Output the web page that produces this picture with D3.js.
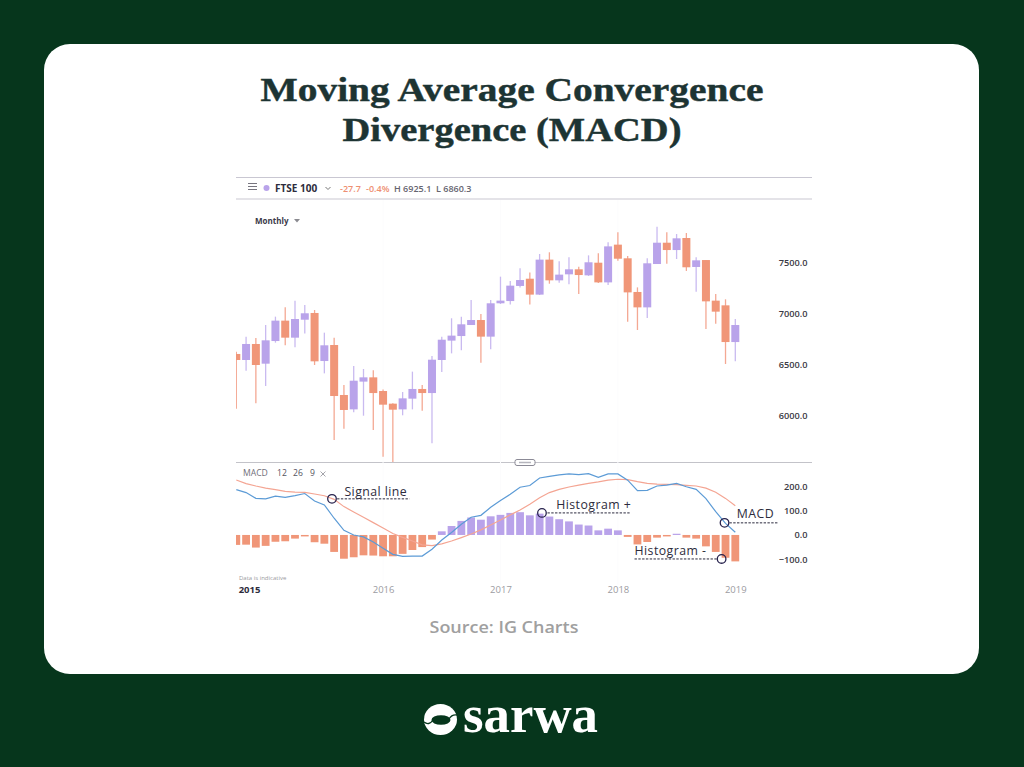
<!DOCTYPE html>
<html><head><meta charset="utf-8">
<script src="https://d3js.org/d3.v7.min.js"></script>
<style>html,body{margin:0;padding:0;background:#06361c;overflow:hidden}svg{display:block}
text{font-family:"Open Sans",Lato,sans-serif}</style></head><body>
<svg id="c" width="1024" height="767"></svg>
<script>
const opens=[6608,6549,6706,6513,6735,6935,6768,6944,7010,6539,6696,6206,6065,6337,6379,6245,6121,6065,6170,6265,6225,6549,6739,6784,6892,6941,6778,7105,7127,7275,7346,7190,7533,7330,7389,7438,7379,7503,7310,7680,7546,7216,7065,7490,7699,7627,7745,7461,7529,7131,7085,6725];
const closes=[6549,6706,6500,6742,6935,6768,6951,7007,6536,6693,6196,6059,6346,6379,6225,6111,6062,6173,6265,6225,6552,6748,6788,6899,6941,6778,7105,7131,7278,7333,7190,7533,7330,7386,7438,7382,7507,7310,7663,7542,7212,7065,7497,7699,7627,7742,7458,7526,7124,7023,6725,6892];
const highs=[6631,6778,6765,6892,6974,7065,7131,7088,7039,6817,6768,6304,6490,6461,6448,6261,6124,6235,6435,6304,6588,6778,6958,6974,7137,7000,7137,7366,7324,7448,7408,7588,7605,7516,7556,7464,7575,7595,7703,7801,7569,7261,7546,7856,7801,7784,7794,7556,7529,7196,7144,6951];
const lows=[6072,6444,6124,6294,6719,6693,6673,6810,6500,6418,5765,5876,6036,6003,5863,5601,5536,6007,6065,6052,5732,6431,6614,6644,6892,6523,6654,7098,7092,7261,7092,7186,7297,7307,7291,7196,7373,7304,7284,7523,6925,6843,6961,7490,7493,7539,7422,7219,6853,6905,6510,6536];
const histogram=[-41,-40,-52,-45,-28,-26,-15,-6,-30,-36,-70,-98,-92,-84,-85,-88,-88,-78,-62,-50,-19,15,37,58,72,63,77,83,91,94,81,88,76,65,56,43,39,19,26,19,-8,-39,-29,-11,-6,5,-11,-15,-47,-70,-94,-109];
const macdLine=[187,175,151,149,160,155,162,171,140,124,69,19,0,-8,-29,-55,-80,-88,-87,-87,-59,-21,10,44,73,81,114,142,168,197,204,235,242,248,252,249,253,238,252,252,226,183,184,202,206,213,199,188,150,96,48,11];
const signalLine=[227,212,202,193,187,180,177,176,169,162,147,117,95,73,51,29,6,-10,-25,-41,-44,-37,-25,-11,4,21,41,62,83,103,127,154,175,188,198,206,213,219,226,230,228,220,213,210,209,208,205,202,193,176,151,121];
const priceTicks=[6000,6500,7000,7500];
const macdTicks=[-100,0,100,200];
const yearTicks=[1.3,15,27,39,51];
const yearLabels=["2015","2016","2017","2018","2019"];
const titleLines=["Moving Average Convergence","Divergence (MACD)"];
const notes=[
 {text:"Signal line",cx:9.78,cy:149,from:10.3,to:17.7,ty:160,anchor:11.05},
 {text:"Histogram +",cx:31.24,cy:91,from:31.8,to:40.2,ty:107,anchor:32.7},
 {text:"MACD",cx:49.9,cy:50,from:50.4,to:55.4,ty:70,anchor:51.15},
 {text:"Histogram -",cx:49.6,cy:-99,from:40.7,to:49.1,ty:-82,anchor:40.7}];

const purple="#b9a3ea",orange="#f09678",purpleW="#c9baf0",orangeW="#f4a893";
const svg=d3.select("#c");
svg.append("rect").attr("width",1024).attr("height",767).attr("fill","#06361c");
svg.append("rect").attr("x",44).attr("y",44).attr("width",935).attr("height",630).attr("rx",26).attr("fill","#fff");

const x=d3.scaleLinear().domain([0,51]).range([236.3,735.3]);
const yP=d3.scaleLinear().domain([6000,7500]).range([416,263]);
const yM=d3.scaleLinear().domain([-100,200]).range([559.2,486.5]);

// title
svg.selectAll(".t").data(titleLines).join("text").attr("class","t")
 .attr("x",512).attr("y",(d,i)=>[101,140.5][i]).attr("text-anchor","middle")
 .attr("textLength",(d,i)=>[503,339][i]).attr("lengthAdjust","spacingAndGlyphs")
 .style("font-family","'Liberation Serif',serif").style("font-weight",700).style("font-size","34.5px")
 .attr("fill","#1d3433").attr("stroke","#1d3433").attr("stroke-width",.45).text(d=>d);

// frame lines
[177.5,199,462.5].forEach(y=>svg.append("line").attr("x1",236).attr("x2",812).attr("y1",y).attr("y2",y)
  .attr("stroke",y==462.5?"#c3c3c9":"#c9c7d2").attr("stroke-width",1.1));
svg.selectAll(".g").data(yearTicks.slice(1,4)).join("line").attr("x1",d=>x(d)).attr("x2",d=>x(d))
  .attr("y1",200).attr("y2",585).attr("stroke","#fcfcfd");

// header
[184,187,190].forEach(y=>svg.append("line").attr("x1",248).attr("x2",257).attr("y1",y-.5).attr("y2",y-.5).attr("stroke","#77757f").attr("stroke-width",1));
svg.append("circle").attr("cx",266.5).attr("cy",188).attr("r",3).attr("fill",purple);
const hdr=(t,xp,c,w,s)=>svg.append("text").attr("x",xp).attr("y",191.5).attr("fill",c).style("font-weight",w).style("font-size",s+"px").text(t);
hdr("FTSE 100",275,"#2d2c3c",700,10);
svg.append("path").attr("d","M325.5 187l2.5 2.5l2.5-2.5").attr("fill","none").attr("stroke","#777");
hdr("-27.7",340,"#ee8f72",600,9);hdr("-0.4%",366,"#ee8f72",600,9);hdr("H 6925.1",394,"#66646f",600,9);hdr("L 6860.3",436,"#66646f",600,9);
svg.append("text").attr("x",255).attr("y",224).attr("fill","#3a3948").style("font-weight",700).style("font-size","8px").text("Monthly");
svg.append("path").attr("d","M294 219h6l-3 3.5z").attr("fill","#8a8a90");

// candles
svg.append("clipPath").attr("id","cp").append("rect").attr("x",236).attr("y",200).attr("width",576).attr("height",262);
const gc=svg.append("g").attr("clip-path","url(#cp)");
const idx=d3.range(opens.length);
const up=i=>closes[i]>=opens[i];
gc.selectAll(".w").data(idx).join("line").attr("x1",i=>x(i)).attr("x2",i=>x(i))
 .attr("y1",i=>yP(highs[i])).attr("y2",i=>yP(lows[i])).attr("stroke",i=>up(i)?purpleW:orangeW).attr("stroke-width",1.3);
gc.selectAll(".b").data(idx).join("rect").attr("x",i=>x(i)-4).attr("width",8)
 .attr("y",i=>yP(Math.max(opens[i],closes[i]))).attr("height",i=>Math.abs(yP(opens[i])-yP(closes[i])))
 .attr("fill",i=>up(i)?purple:orange);

// price axis
const styleAxis=g=>{g.select(".domain").remove();g.selectAll("line").remove();
 g.selectAll("text").attr("x",0).attr("text-anchor","end").attr("fill","#3b3a44").style("font-family","'Open Sans'").style("font-weight",600).style("font-size","9.2px");};
svg.append("g").attr("transform","translate(807.5,0)").call(d3.axisRight(yP).tickValues(priceTicks).tickFormat(d3.format(".1f"))).call(styleAxis);
svg.append("g").attr("transform","translate(807.5,0)").call(d3.axisRight(yM).tickValues(macdTicks).tickFormat(d3.format(".1f"))).call(styleAxis);

// slider handle
svg.append("rect").attr("x",515).attr("y",459.5).attr("width",20).attr("height",6).attr("rx",2).attr("fill","#fff").attr("stroke","#8b8a96");
svg.append("line").attr("x1",519).attr("x2",531).attr("y1",462.5).attr("y2",462.5).attr("stroke","#b5b5bd").attr("stroke-width",1.5);

// MACD
const t=svg.append("text").attr("x",243).attr("y",476).attr("fill","#6f6e78").style("font-size","8.6px").style("font-weight",500);
t.append("tspan").text("MACD");t.append("tspan").attr("x",277).attr("fill","#55545e").text("12");t.append("tspan").attr("x",293).attr("fill","#55545e").text("26");t.append("tspan").attr("x",310).attr("fill","#55545e").text("9");
svg.append("path").attr("d","M320.5 471.5l5 5m0-5l-5 5").attr("stroke","#9a9aa2").attr("stroke-width",.9);
svg.append("clipPath").attr("id","cm").append("rect").attr("x",236).attr("y",464).attr("width",576).attr("height",120);
const gm=svg.append("g").attr("clip-path","url(#cm)");
gm.selectAll(".h").data(idx).join("rect").attr("x",i=>x(i)-3.9).attr("width",7.8)
 .attr("y",i=>yM(Math.max(0,histogram[i]))).attr("height",i=>Math.abs(yM(histogram[i])-yM(0)))
 .attr("fill",i=>histogram[i]>=0?purple:orange);
const ln=a=>d3.line().x((d,i)=>x(i)).y(d=>yM(d))(a);
gm.append("path").attr("d",ln(signalLine)).attr("fill","none").attr("stroke","#f4a593").attr("stroke-width",1.2);
gm.append("path").attr("d",ln(macdLine)).attr("fill","none").attr("stroke","#5c9bd6").attr("stroke-width",1.2);

// annotations
notes.forEach(n=>{
 svg.append("line").attr("x1",x(n.from)).attr("x2",x(n.to)).attr("y1",yM(n.cy)).attr("y2",yM(n.cy)).attr("stroke","#2b2a3e").attr("stroke-width",1).attr("stroke-dasharray","2.4 1.4");
 svg.append("circle").attr("cx",x(n.cx)).attr("cy",yM(n.cy)).attr("r",4.3).attr("fill","none").attr("stroke","#27224d").attr("stroke-width",1.3);
 svg.append("text").attr("x",x(n.anchor)).attr("y",yM(n.ty)).attr("fill","#2d2c3c").style("font-size","12.3px").style("letter-spacing",".45px").text(n.text);
});
svg.append("text").attr("x",239).attr("y",580).attr("fill","#9a9aa0").style("font-size","6px").text("Data is indicative");

// year axis
const ax=d3.axisBottom(x).tickValues(yearTicks).tickFormat((d,i)=>yearLabels[i]);
svg.append("g").attr("transform","translate(0,580)").call(ax).call(g=>{g.select(".domain").remove();g.selectAll("line").remove();
 g.selectAll("text").attr("y",0).attr("dy","13px").attr("fill","#9c9ca2").style("font-family","'Open Sans'").style("font-weight",500).style("font-size","9.5px");
 g.select(".tick text").attr("fill","#2d2c3c").style("font-weight",700);});

// source
svg.append("text").attr("x",504).attr("y",633).attr("text-anchor","middle").attr("fill","#a0a0a0").style("font-weight",600).style("font-size","16.5px").style("font-family","'Open Sans'").attr("textLength",149).attr("lengthAdjust","spacingAndGlyphs").text("Source: IG Charts");

// logo
svg.append("ellipse").attr("cx",440.5).attr("cy",719.5).attr("rx",16.5).attr("ry",15.5).attr("fill","#fff");
svg.append("ellipse").attr("cx",441).attr("cy",720).attr("rx",9.5).attr("ry",4.8).attr("fill","#06361c");
svg.append("path").attr("d","M424 722Q429 726 433 720M449 719Q452 714 457 715").attr("fill","none").attr("stroke","#06361c").attr("stroke-width",1.3);
svg.append("text").attr("x",463).attr("y",732).attr("fill","#fff").style("font-family","'Liberation Serif'").style("font-weight",700).style("font-size","52px").attr("textLength",135).attr("lengthAdjust","spacingAndGlyphs").text("sarwa");
</script></body></html>
